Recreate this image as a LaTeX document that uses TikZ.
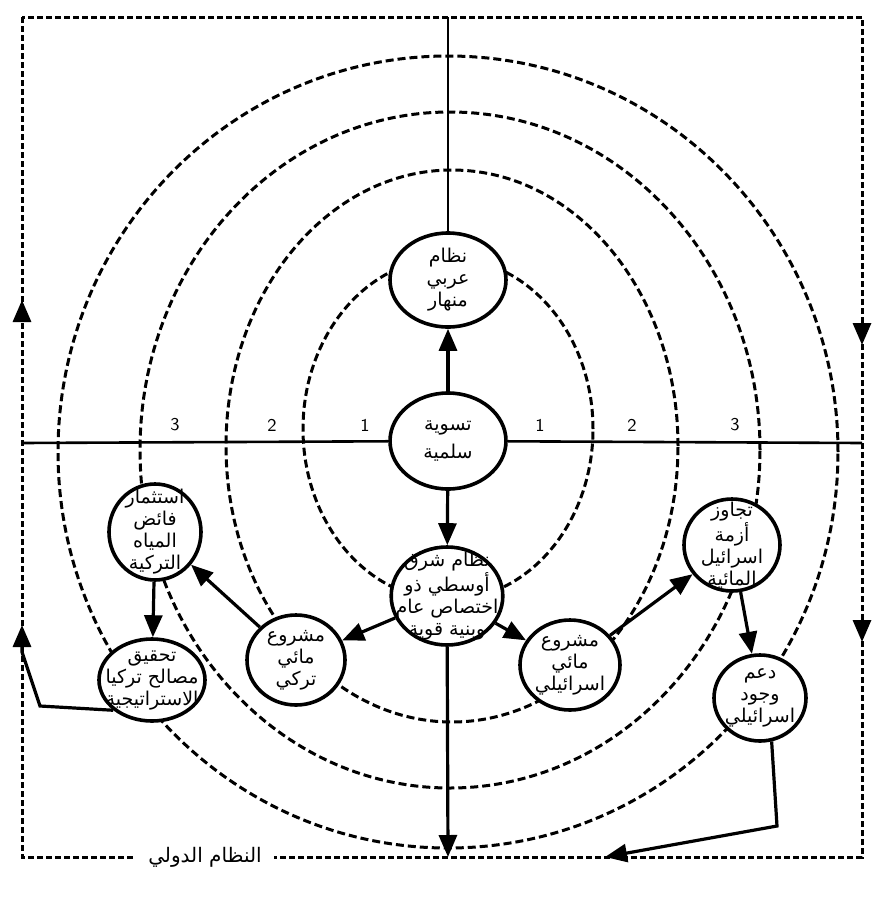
\documentclass[tikz,border=0pt]{standalone}
\usepackage{fontspec}
\newfontfamily\arabicfont[Script=Arabic]{DejaVu Sans}
\TeXXeTstate=1
\usetikzlibrary{shapes.geometric,arrows.meta}
\newcommand{\rl}[1]{\beginR #1\endR}
\tikzset{
  stagenode/.style={ellipse,draw,line width=1.8pt,fill=white,inner sep=-6pt,align=center,
    font=\arabicfont\fontsize{9.5}{11}\selectfont},
  ring/.style={dash pattern=on 4pt off 2pt,line width=1.5pt},
  borderline/.style={dash pattern=on 3pt off 1.5pt,line width=1.5pt},
  arr/.style={line width=1.6pt,-{Triangle[length=11pt,width=9pt]}},
  axisline/.style={line width=1.3pt},
  ringno/.style={font=\sffamily\small},
}

\begin{document}
\begin{tikzpicture}[x=0.5pt,y=-0.5pt]
  \useasboundingbox (0,0) rectangle (874,900);
  \coordinate (tl) at (22,17);
  \coordinate (br) at (862,857);
  \coordinate (topmid) at (448,17);
  \coordinate (botmid) at (448,857);
  \coordinate (leftmid) at (22,443);
  \coordinate (rightmid) at (862,443);

  \draw[borderline] (tl) rectangle (br);
  \draw[ring] (448,452) ellipse [x radius=195pt, y radius=198pt];
  \draw[ring] (450,450) ellipse [x radius=155pt, y radius=169pt];
  \draw[ring] (452,446) ellipse [x radius=113pt, y radius=138pt];
  \draw[ring] (448,429) ellipse [x radius=72.5pt, y radius=85.5pt];

  \node[stagenode,minimum width=58pt,minimum height=47pt] (arab) at (448,280) {\rl{نظام}\\\rl{عربي}\\\rl{منهار}};
  \node[stagenode,minimum width=58pt,minimum height=48pt] (tas) at (448,441) {\rl{تسوية}\\[3pt]\rl{سلمية}};
  \node[stagenode,minimum width=54pt,minimum height=49pt] (lower) at (447,596) {\rl{نظام شرق}\\\rl{أوسطي ذو}\\\rl{اختصاص عام}\\\rl{وبنية قوية}};
  \node[stagenode,minimum width=46pt,minimum height=48pt] (invest) at (155,532) {\rl{استثمار}\\\rl{فائض}\\\rl{المياه}\\\rl{التركية}};
  \node[stagenode,minimum width=53pt,minimum height=41pt] (achieve) at (152,680) {\rl{تحقيق}\\\rl{مصالح تركيا}\\\rl{الاستراتيجية}};
  \node[stagenode,minimum width=49pt,minimum height=45pt] (turk) at (296,660) {\rl{مشروع}\\\rl{مائي}\\\rl{تركي}};
  \node[stagenode,minimum width=50pt,minimum height=45pt] (isr) at (570,665) {\rl{مشروع}\\\rl{مائي}\\\rl{اسرائيلي}};
  \node[stagenode,minimum width=48pt,minimum height=46pt] (overcome) at (732,545) {\rl{تجاوز}\\\rl{أزمة}\\\rl{اسرائيل}\\\rl{المائية}};
  \node[stagenode,minimum width=46pt,minimum height=43pt] (support) at (760,698) {\rl{دعم}\\\rl{وجود}\\\rl{اسرائيلي}};

  \node[ringno] (l3) at (175,425) {3};
  \node[ringno] (l2) at (272,425) {2};
  \node[ringno] (l1) at (365,425) {1};
  \node[ringno] (r1) at (540,425) {1};
  \node[ringno] (r2) at (632,425) {2};
  \node[ringno] (r3) at (735,425) {3};
  \node[fill=white,font=\arabicfont\fontsize{10}{11}\selectfont,inner xsep=6pt] (intl) at (205,857) {\rl{النظام الدولي}};

  \draw[axisline] (topmid) -- (arab);
  \draw[axisline] (leftmid) -- (tas);
  \draw[axisline] (tas) -- (rightmid);
  \draw[arr] (tas) -- (arab);
  \draw[arr] (tas) -- (lower);
  \draw[arr] (lower) -- (botmid);
  \draw[arr] (lower) -- (turk);
  \draw[arr] (lower) -- (isr);
  \draw[arr] (turk) -- (invest);
  \draw[arr] (isr) -- (overcome);
  \draw[arr] (invest) -- (achieve);
  \draw[arr] (overcome) -- (support);
  \draw[arr] (achieve.south west) -- (40,706) -- (22,652) -- (22,625);
  \draw[arr] (support.-75) -- (777,826) -- (605,857);

  \draw[arr] (22,322) -- (22,300);
  \draw[arr] (862,323) -- (862,345);
  \draw[arr] (862,620) -- (862,642);
\end{tikzpicture}
\end{document}
